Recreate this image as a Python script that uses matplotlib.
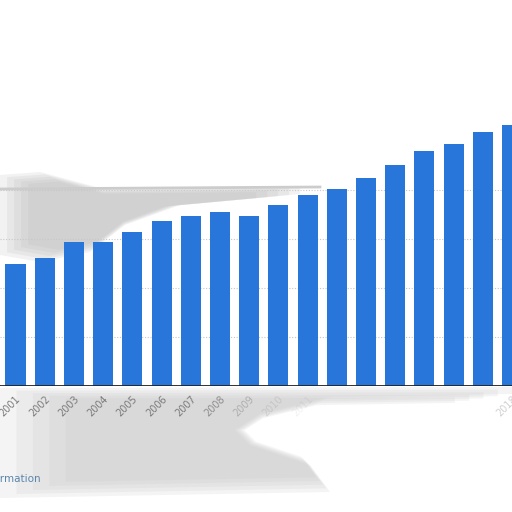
import matplotlib.pyplot as plt
from matplotlib.patches import Polygon

# values (arbitrary units, grid step = 50)
years = ["2001", "2002", "2003", "2004", "2005", "2006", "2007", "2008", "2009",
         "2010", "2011", "2012", "2013", "2014", "2015", "2016", "2017", "2018"]
values = [124, 131, 147, 147, 157, 168, 173, 178, 173,
          185, 195, 201, 212, 226, 240, 247, 259, 266]
# how strongly each year label still shows through the washed-out bottom
label_alpha = [1, 1, 1, 1, 1, 1, 1, 0.8, 0.45, 0.2, 0.1, 0, 0, 0, 0, 0, 0, 0.35]

W = H = 512
fig = plt.figure(figsize=(W / 100, H / 100), dpi=100, facecolor="white")


def px(x, y):
    return (x / W, 1 - y / H)


def smudge(pts, col, alpha, steps=5, shrink=0.06):
    # stack a few shrinking copies so the edge looks soft
    cx = sum(p[0] for p in pts) / len(pts)
    cy = sum(p[1] for p in pts) / len(pts)
    for i in range(steps):
        k = 1 - shrink * i
        sp = [(cx + (x - cx) * k, cy + (y - cy) * k) for x, y in pts]
        fig.patches.append(Polygon(sp, closed=True, transform=fig.transFigure,
                                   facecolor=col, edgecolor="none",
                                   alpha=alpha / steps * 1.6, zorder=-5))


# greyish smudges left over in the background
smudge([px(0, 388), px(512, 387), px(512, 394), px(330, 397), px(260, 414),
        px(235, 430), px(250, 445), px(310, 465), px(330, 492), px(0, 498)],
       "#c8c8c8", 0.6)
smudge([px(0, 175), px(40, 172), px(100, 188), px(300, 186), px(300, 194),
        px(180, 205), px(125, 225), px(90, 252), px(40, 262), px(0, 255)],
       "#b8b8b8", 0.55)
fig.add_artist(plt.Line2D([0, 320 / W], [1 - 189 / H, 1 - 187 / H], color="#cccccc",
                          lw=2, transform=fig.transFigure, zorder=-4))

ax = fig.add_axes([0, 1 - 386 / H, 1, 386 / H])
ax.patch.set_alpha(0)

x = list(range(len(years)))
ax.bar(x, values, width=0.685, color="#2876d9", zorder=3)

pitch = (512 - 15.5) / 17
ax.set_xlim(-15.5 / pitch, 17.0)
ax.set_ylim(0, 386 * 50 / 49)

for g in [50, 100, 150, 200]:
    ax.axhline(g, color="#c8c8c8", lw=0.8, ls=(0, (1, 1.5)), zorder=1)
ax.axhline(0, color="#222222", lw=1.3, zorder=4)

for s in ax.spines.values():
    s.set_visible(False)
ax.set_yticks([])
ax.set_xticks(x)
ax.set_xticklabels(years, rotation=45, ha="right", rotation_mode="anchor",
                   fontsize=7, color="#7a7a7a")
for lab, a in zip(ax.get_xticklabels(), label_alpha):
    lab.set_alpha(a)
ax.tick_params(axis="x", length=0, pad=6)

fig.text(41 / W, 1 - 479 / H, "Information", ha="right", va="center",
         fontsize=7.5, color="#5a86ad")

fig.savefig("out.png", dpi=100, facecolor="white")
